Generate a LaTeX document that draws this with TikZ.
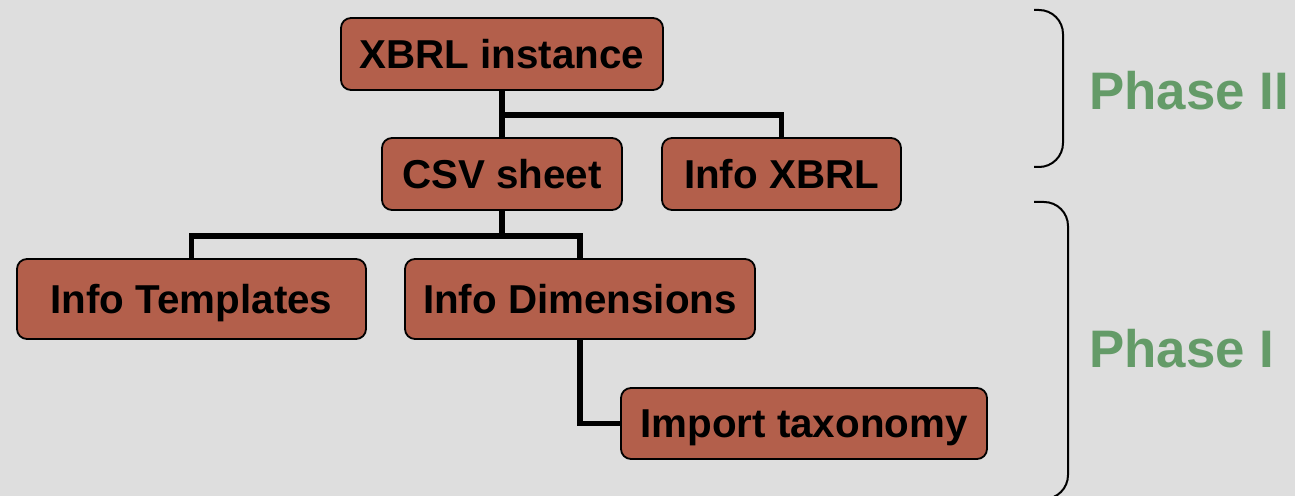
\documentclass[tikz,border=0pt]{standalone}
\usepackage{fontspec}
\setmainfont{Liberation Sans}
\definecolor{bggray}{HTML}{DEDEDE}
\definecolor{brick}{HTML}{B35F4B}
\definecolor{phasegreen}{HTML}{649B68}
\tikzset{
    infobox/.style={draw=black, line width=1.8bp, fill=brick, rounded corners=10bp,
        minimum height=72bp, inner sep=0pt, text height=28.5bp, text depth=0bp,
        font=\fontsize{40.5}{45}\selectfont\bfseries},
    link/.style={line width=5.5bp},
    phase/.style={anchor=west, inner sep=0pt, text=phasegreen, text height=38bp, text depth=0bp,
        font=\fontsize{53}{60}\selectfont\bfseries},
    brace/.style={line width=2bp, rounded corners=24bp}
}
\begin{document}
\begin{tikzpicture}[x=1bp, y=-1bp]
        \useasboundingbox (0,0) rectangle (1295,496);
        \fill[bggray] (0,0) rectangle (1295,496);
        % boxes
        \node[infobox, minimum width=322bp] (xbrl) at (502,54) {XBRL instance};
        \node[infobox, minimum width=240bp] (csv) at (502,174) {CSV sheet};
        \node[infobox, minimum width=239bp] (infoxbrl) at (781.5,174) {Info XBRL};
        \node[infobox, minimum width=349bp, minimum height=80bp] (templates) at (191.5,299) {Info Templates};
        \node[infobox, minimum width=350bp, minimum height=80bp] (dims) at (580,299) {Info Dimensions};
        \node[infobox, minimum width=366bp, minimum height=71bp] (import) at (804,423.5) {Import taxonomy};
        % tree lines
        \coordinate (fork1) at (502,115);
        \coordinate (fork2) at (502,236);
        \draw[link] (xbrl) -- (csv);
        \draw[link] (fork1) -| (infoxbrl.north);
        \draw[link] (csv) -- (fork2);
        \draw[link] (templates.north) |- (fork2) -| (dims.north);
        \draw[link] (dims.south) |- (import.west);
        % phases
        \draw[brace] (1034,10) -- (1063,10) -- (1063,167) -- (1034,167);
        \draw[brace] (1034,202) -- (1068,202) -- (1068,499) -- (1034,499);
        \node[phase] (phase2) at (1089,91) {Phase II};
        \node[phase] (phase1) at (1089,349) {Phase I};
    \end{tikzpicture}
\end{document}
